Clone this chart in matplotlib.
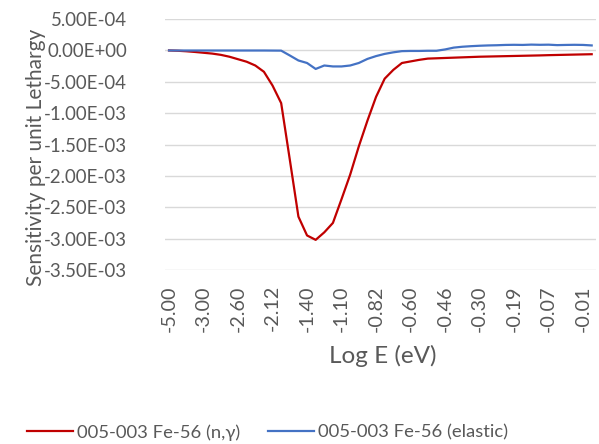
import matplotlib
matplotlib.use('Agg')
import matplotlib.pyplot as plt
import numpy as np

plt.rcParams['font.family'] = ['Lato', 'DejaVu Sans']

# Sensitivity per unit lethargy, one value per energy group (50 groups)
capture = [0.0, -0.5e-5, -1.3e-5, -2.4e-5, -3.7e-5, -5.0e-5, -7.0e-5, -1.0e-4, -1.4e-4, -1.8e-4,
           -2.4e-4, -3.4e-4, -5.6e-4, -8.4e-4, -1.74e-3, -2.65e-3, -2.95e-3, -3.02e-3, -2.90e-3, -2.75e-3,
           -2.37e-3, -1.98e-3, -1.53e-3, -1.12e-3, -7.4e-4, -4.5e-4, -3.1e-4, -2.0e-4, -1.75e-4, -1.5e-4,
           -1.3e-4, -1.25e-4, -1.2e-4, -1.15e-4, -1.1e-4, -1.05e-4, -1.0e-4, -9.7e-5, -9.4e-5, -9.1e-5,
           -8.8e-5, -8.5e-5, -8.2e-5, -7.9e-5, -7.5e-5, -7.2e-5, -6.9e-5, -6.6e-5, -6.3e-5, -6.0e-5]
elastic = [0.0, -1e-6, -1e-6, -1e-6, -1e-6, -1e-6, -1e-6, -1e-6, -1e-6, -1e-6,
           -1e-6, -1e-6, -2e-6, -3e-6, -8e-5, -1.6e-4, -2.0e-4, -2.95e-4, -2.4e-4, -2.55e-4,
           -2.55e-4, -2.4e-4, -2.0e-4, -1.35e-4, -9e-5, -5.5e-5, -3e-5, -1.1e-5, -8e-6, -8e-6,
           -5e-6, -5e-6, 1.6e-5, 4.5e-5, 5.9e-5, 6.8e-5, 7.5e-5, 8.0e-5, 8.3e-5, 8.8e-5,
           9.0e-5, 8.8e-5, 9.3e-5, 9.0e-5, 9.2e-5, 8.5e-5, 8.8e-5, 9.0e-5, 8.8e-5, 8.0e-5]

# Category labels shown on the axis (every 4th group)
tick_labels = ['-5.00', '-3.00', '-2.60', '-2.12', '-1.40', '-1.10', '-0.82',
               '-0.60', '-0.46', '-0.30', '-0.19', '-0.07', '-0.01']
tick_step = 4

text_color = '#595959'
x = np.arange(len(capture))

fig = plt.figure(figsize=(5.99, 4.44), dpi=100)
ax = fig.add_axes([0.275, 0.392, 0.72, 0.565])

ax.plot(x, capture, color='#C00000', lw=1.6, label='005-003 Fe-56 (n,\u03b3)')
ax.plot(x, elastic, color='#4472C4', lw=1.6, label='005-003 Fe-56 (elastic)')

ax.set_xlim(-0.5, len(capture) - 0.5)
ax.set_ylim(-3.5e-3, 5e-4)
ax.set_yticks(np.arange(-3.5e-3, 5.1e-4, 5e-4))
ax.yaxis.set_major_formatter(plt.FuncFormatter(lambda v, p: f'{v:.2E}'.replace('-0.00E', '0.00E')))
ax.set_xticks(x[::tick_step][:len(tick_labels)])
ax.set_xticklabels(tick_labels, rotation=90)

ax.grid(axis='y', color='#D9D9D9', lw=1)
ax.set_axisbelow(True)
for s in ax.spines.values():
    s.set_visible(False)
ax.tick_params(length=0, colors=text_color)
ax.tick_params(axis='y', labelsize=13.4, pad=27)
ax.tick_params(axis='x', labelsize=14.2, pad=11)

ax.set_xlabel('Log E (eV)', fontsize=17.5, color=text_color)
ax.set_ylabel('Sensitivity per unit Lethargy', fontsize=15, color=text_color)
ax.yaxis.set_label_coords(-0.275, 0.45)
ax.xaxis.set_label_coords(0.506, -0.30)

fig.legend(loc='lower center', bbox_to_anchor=(0.447, -0.03), ncol=2, frameon=False,
           fontsize=13.3, labelcolor=text_color, handlelength=2.5, columnspacing=1.5,
           handletextpad=0.22)

fig.savefig('out.png', dpi=100)
